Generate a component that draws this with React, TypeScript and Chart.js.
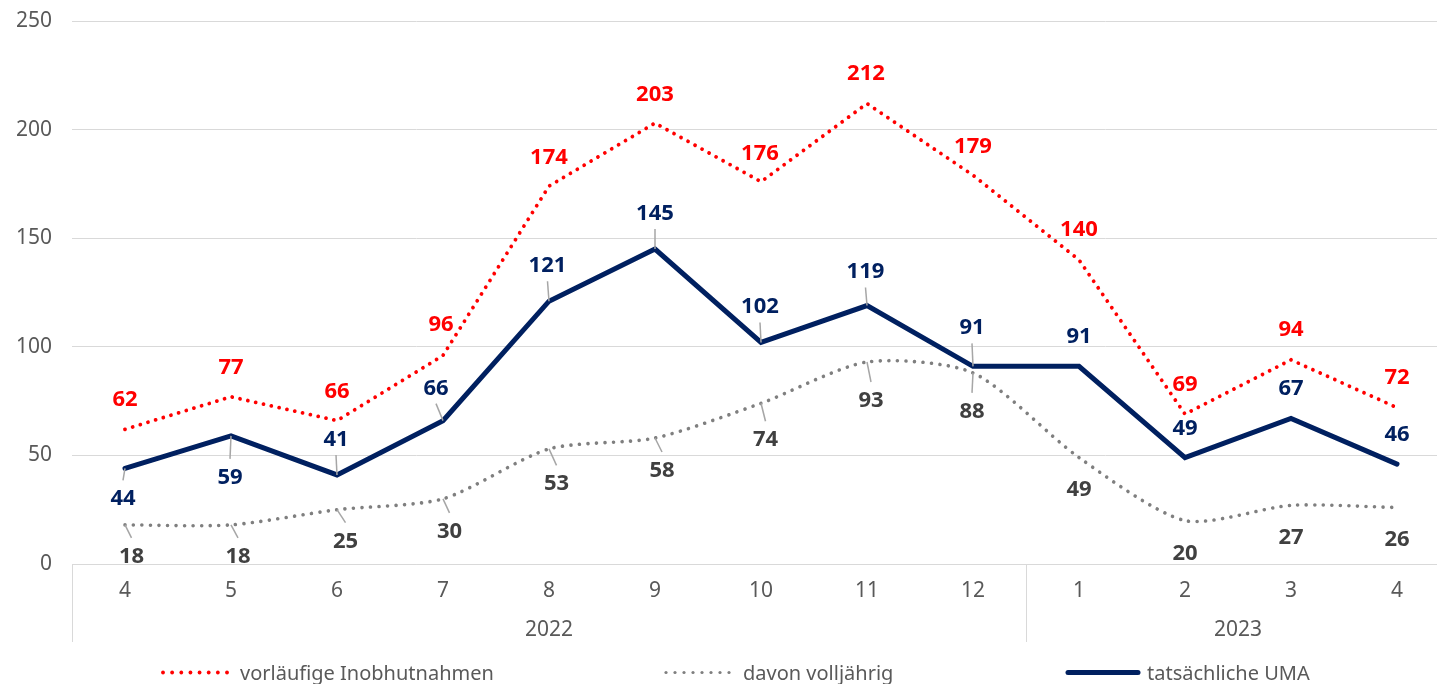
import React, { useEffect, useRef } from "react";
import { Chart, registerables } from "chart.js";

Chart.register(...registerables);

// ---------- data ----------
const months = ["4", "5", "6", "7", "8", "9", "10", "11", "12", "1", "2", "3", "4"];
const yearGroups = [
  { label: "2022", from: 0, to: 8 },
  { label: "2023", from: 9, to: 12 },
];
const vorlaeufigeInobhutnahmen = [62, 77, 66, 96, 174, 203, 176, 212, 179, 140, 69, 94, 72];
const davonVolljaehrig = [18, 18, 25, 30, 53, 58, 74, 93, 88, 49, 20, 27, 26];
const tatsaechlicheUMA = [44, 59, 41, 66, 121, 145, 102, 119, 91, 91, 49, 67, 46];
const yMin = 0;
const yMax = 250;
const yStep = 50;

// ---------- styles ----------
const FONT = "'Noto Sans', 'Open Sans', sans-serif";
const RED = "#FF0000";
const NAVY = "#002060";
const GRAY_LINE = "#7F7F7F";
const GRAY_LABEL = "#404040";
const AXIS_TEXT = "#595959";
const GRID = "#D9D9D9";
const LEADER = "#A6A6A6";

// label offsets (pixels relative to the point) and leader-line flags
const redOffsets = [
  [0, -31], [0, -31], [0, -31], [-2, -32], [0, -30], [0, -30], [-1, -30],
  [-1, -31], [0, -30], [0, -32], [0, -31], [0, -32], [0, -31],
];
const redLeaders = [0, 0, 0, 0, 0, 0, 0, 0, 0, 0, 0, 0, 0];
const navyOffsets = [
  [-2, 29], [-1, 40], [-1, -37], [-7, -34], [-1.5, -37], [0, -37], [-1, -37],
  [-1.5, -35], [-1, -40], [0, -31], [0, -30], [0, -31], [0, -31],
];
const navyLeaders = [1, 1, 1, 1, 1, 1, 1, 1, 1, 0, 0, 0, 0];
const grayOffsets = [
  [6.5, 30], [7, 30], [8.5, 30], [6.5, 31], [7.5, 33.5], [7, 31], [4.5, 35],
  [4, 37], [-1, 37], [0, 31], [0, 32], [0, 31], [0, 31],
];
const grayLeaders = [1, 1, 1, 1, 1, 1, 1, 1, 1, 0, 0, 0, 0];

const legendLayout = [
  { datasetIndex: 1, x0: 163, x1: 227, tx: 240 },
  { datasetIndex: 2, x0: 666, x1: 729, tx: 743 },
  { datasetIndex: 0, x0: 1068, x1: 1138, tx: 1147 },
];

const labelCfg = [
  { datasetIndex: 2, color: GRAY_LABEL, offsets: grayOffsets, leaders: grayLeaders },
  { datasetIndex: 1, color: RED, offsets: redOffsets, leaders: redLeaders },
  { datasetIndex: 0, color: NAVY, offsets: navyOffsets, leaders: navyLeaders },
];

const customPlugin = {
  id: "customDecor",
  afterDatasetsDraw(chart: any) {
    const ctx = chart.ctx as CanvasRenderingContext2D;
    ctx.save();
    // leader lines
    labelCfg.forEach((cfg) => {
      const meta = chart.getDatasetMeta(cfg.datasetIndex);
      meta.data.forEach((pt: any, i: number) => {
        if (!cfg.leaders[i]) return;
        const [dx, dy] = cfg.offsets[i];
        const ex = pt.x + dx;
        const ey = pt.y + dy - Math.sign(dy) * 17;
        ctx.beginPath();
        ctx.strokeStyle = LEADER;
        ctx.lineWidth = 1.5;
        ctx.setLineDash([]);
        ctx.moveTo(pt.x, pt.y);
        ctx.lineTo(ex, ey);
        ctx.stroke();
      });
    });
    // labels
    const size = 22;
    ctx.font = `bold ${size}px ${FONT}`;
    ctx.textAlign = "center";
    ctx.textBaseline = "alphabetic";
    labelCfg.forEach((cfg) => {
      const meta = chart.getDatasetMeta(cfg.datasetIndex);
      const values = chart.data.datasets[cfg.datasetIndex].data;
      meta.data.forEach((pt: any, i: number) => {
        const [dx, dy] = cfg.offsets[i];
        ctx.fillStyle = cfg.color;
        ctx.fillText(String(values[i]), pt.x + dx, pt.y + dy + 0.357 * size);
      });
    });
    ctx.restore();
  },
  afterDraw(chart: any) {
    const ctx = chart.ctx as CanvasRenderingContext2D;
    const xs = chart.scales.x;
    const area = chart.chartArea;
    ctx.save();
    // group separators
    const sepBottom = area.bottom + 78;
    const seps = [area.left, area.right];
    for (let g = 0; g < yearGroups.length - 1; g++) {
      const a = xs.getPixelForValue(yearGroups[g].to);
      const b = xs.getPixelForValue(yearGroups[g + 1].from);
      seps.push((a + b) / 2);
    }
    ctx.strokeStyle = GRID;
    ctx.lineWidth = 1;
    seps.forEach((sx) => {
      const px = Math.round(sx) + 0.5;
      ctx.beginPath();
      ctx.moveTo(px, area.bottom);
      ctx.lineTo(px, sepBottom);
      ctx.stroke();
    });
    // year labels
    const ySize = 21;
    ctx.font = `${ySize}px ${FONT}`;
    ctx.fillStyle = AXIS_TEXT;
    ctx.textAlign = "center";
    ctx.textBaseline = "alphabetic";
    yearGroups.forEach((g) => {
      const cx = (xs.getPixelForValue(g.from) + xs.getPixelForValue(g.to)) / 2;
      ctx.fillText(g.label, cx, 629 + 0.357 * ySize);
    });
    // legend
    const ly = 672.5;
    const lSize = 20;
    legendLayout.forEach((item) => {
      const ds = chart.data.datasets[item.datasetIndex];
      ctx.beginPath();
      ctx.strokeStyle = ds.borderColor;
      ctx.lineCap = "round";
      if (item.datasetIndex === 0) {
        ctx.lineWidth = 5;
        ctx.setLineDash([]);
        ctx.moveTo(item.x0, ly);
        ctx.lineTo(item.x1, ly);
        ctx.stroke();
      } else {
        ctx.setLineDash([]);
        ctx.fillStyle = ds.borderColor;
        const n = 8;
        const r = item.datasetIndex === 1 ? 1.9 : 1.6;
        for (let k = 0; k < n; k++) {
          const px = item.x0 + ((item.x1 - item.x0) * k) / (n - 1);
          ctx.beginPath();
          ctx.arc(px, ly, r, 0, Math.PI * 2);
          ctx.fill();
        }
      }
      ctx.font = `${lSize}px ${FONT}`;
      ctx.fillStyle = AXIS_TEXT;
      ctx.textAlign = "left";
      ctx.textBaseline = "alphabetic";
      ctx.fillText(ds.label, item.tx, ly + 0.357 * lSize);
    });
    ctx.restore();
  },
};

export default function App() {
  const ref = useRef<HTMLCanvasElement>(null);
  useEffect(() => {
    const canvas = ref.current;
    if (!canvas) return;
    const chart = new Chart(canvas, {
      type: "line",
      data: {
        labels: months,
        datasets: [
          {
            label: "tatsächliche UMA",
            data: tatsaechlicheUMA,
            borderColor: NAVY,
            backgroundColor: NAVY,
            borderWidth: 5,
            borderCapStyle: "round",
            borderJoinStyle: "miter",
            pointRadius: 0,
            tension: 0,
            order: 0,
          },
          {
            label: "vorläufige Inobhutnahmen",
            data: vorlaeufigeInobhutnahmen,
            borderColor: RED,
            backgroundColor: RED,
            borderWidth: 3.8,
            borderDash: [0.01, 8],
            borderCapStyle: "round",
            pointRadius: 0,
            tension: 0,
            order: 1,
          },
          {
            label: "davon volljährig",
            data: davonVolljaehrig,
            borderColor: GRAY_LINE,
            backgroundColor: GRAY_LINE,
            borderWidth: 3.6,
            borderDash: [0.01, 8.5],
            borderCapStyle: "round",
            pointRadius: 0,
            tension: 0.25,
            order: 2,
          },
        ],
      },
      options: {
        responsive: false,
        animation: false,
        layout: { padding: { left: 0, right: 0, top: 21, bottom: 42 } },
        plugins: {
          legend: { display: false },
          tooltip: { enabled: false },
        },
        scales: {
          x: {
            type: "category",
            offset: true,
            grid: { display: false, drawTicks: false },
            border: { display: true, color: GRID, width: 1 },
            ticks: {
              color: AXIS_TEXT,
              font: { family: FONT, size: 21 },
              padding: 14,
              maxRotation: 0,
              autoSkip: false,
            },
            afterFit: (s: any) => {
              s.height = 78;
              s.paddingLeft = 0;
              s.paddingRight = 0;
            },
          },
          y: {
            min: yMin,
            max: yMax,
            ticks: {
              stepSize: yStep,
              color: AXIS_TEXT,
              font: { family: FONT, size: 21 },
              padding: 20,
            },
            grid: { color: GRID, drawTicks: false, lineWidth: 1 },
            border: { display: false },
            afterFit: (s: any) => {
              s.width = 72;
              s.paddingTop = 0;
              s.paddingBottom = 0;
            },
          },
        },
      },
      plugins: [customPlugin],
    } as any);
    return () => chart.destroy();
  }, []);

  return (
    <div
      style={{
        position: "fixed",
        left: 0,
        top: 0,
        width: "1437px",
        height: "684px",
        overflow: "hidden",
        background: "#fff",
      }}
    >
      <canvas ref={ref} width={1450} height={684} style={{ display: "block", width: "1450px", height: "684px" }} />
    </div>
  );
}
